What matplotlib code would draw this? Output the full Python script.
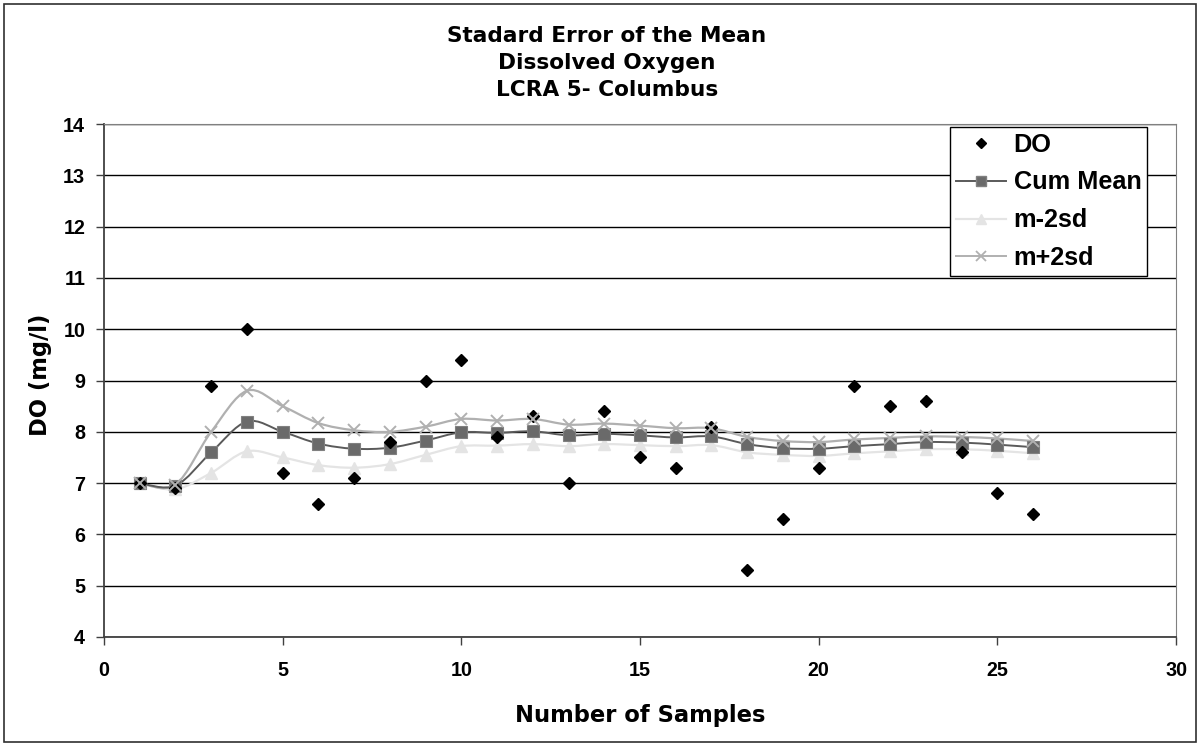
import matplotlib
matplotlib.use("Agg")
import matplotlib.pyplot as plt
from matplotlib.path import Path
from matplotlib.patches import PathPatch, Rectangle
from matplotlib.lines import Line2D
import numpy as np

plt.rcParams['font.family'] = ['Liberation Sans', 'DejaVu Sans']
plt.rcParams['font.weight'] = 'bold'

samples = list(range(1, 27))
do_vals = [7.0, 6.9, 8.9, 10.0, 7.2, 6.6, 7.1, 7.8, 9.0, 9.4, 7.9, 8.3, 7.0,
           8.4, 7.5, 7.3, 8.1, 5.3, 6.3, 7.3, 8.9, 8.5, 8.6, 7.6, 6.8, 6.4]
cum_mean = [7.0, 6.95, 7.6, 8.2, 8.0, 7.77, 7.67, 7.69, 7.83, 7.99, 7.98, 8.01, 7.93,
            7.96, 7.93, 7.89, 7.91, 7.76, 7.68, 7.67, 7.72, 7.76, 7.80, 7.79, 7.75, 7.70]
m_minus = [7.0, 6.88, 7.2, 7.62, 7.5, 7.35, 7.3, 7.37, 7.55, 7.72, 7.73, 7.76, 7.72,
           7.76, 7.74, 7.72, 7.74, 7.6, 7.55, 7.53, 7.58, 7.62, 7.66, 7.66, 7.63, 7.58]
m_plus = [7.0, 6.97, 8.0, 8.8, 8.5, 8.17, 8.03, 8.0, 8.1, 8.25, 8.22, 8.25, 8.14,
          8.16, 8.12, 8.07, 8.07, 7.90, 7.82, 7.8, 7.85, 7.88, 7.91, 7.9, 7.87, 7.82]

title_lines = ["Stadard Error of the Mean", "Dissolved Oxygen", "LCRA 5- Columbus"]
legend_labels = ['DO', 'Cum Mean', 'm-2sd', 'm+2sd']

W, H = 1199, 744
fig = plt.figure(figsize=(W / 100, H / 100), dpi=100)
L, R, T, B = 104, 1176, 124, 637
ax = fig.add_axes([L / W, 1 - B / H, (R - L) / W, (B - T) / H])

def smooth(ax, xs, ys, color, lw, z):
    pts = np.column_stack([xs, ys]).astype(float)
    n = len(pts)
    verts = [pts[0]]
    codes = [Path.MOVETO]
    for i in range(n - 1):
        p0 = pts[i - 1] if i > 0 else pts[i]
        p1 = pts[i]
        p2 = pts[i + 1]
        p3 = pts[i + 2] if i + 2 < n else pts[i + 1]
        c1 = p1 + (p2 - p0) / 6.0
        c2 = p2 - (p3 - p1) / 6.0
        verts += [c1, c2, p2]
        codes += [Path.CURVE4] * 3
    ax.add_patch(PathPatch(Path(verts, codes), fill=False, edgecolor=color,
                           lw=lw, zorder=z, capstyle='round', joinstyle='round'))

c_mean = '#5a5a5a'
c_mean_m = '#6a6a6a'
c_minus = '#e4e4e4'
c_plus = '#b0b0b0'

smooth(ax, samples, m_minus, c_minus, 1.6, 3)
smooth(ax, samples, m_plus, c_plus, 1.6, 3)
smooth(ax, samples, cum_mean, c_mean, 1.4, 3)

ax.plot(samples, do_vals, ls='none', marker='D', ms=5.8, color='black', mec='black',
        zorder=5)
ax.plot(samples, m_minus, ls='none', marker='^', ms=8.6, color=c_minus, mec=c_minus,
        zorder=4)
ax.plot(samples, cum_mean, ls='none', marker='s', ms=8.4, color=c_mean_m, mec='#808080',
        mew=0.8, zorder=4)
ax.plot(samples, m_plus, ls='none', marker='x', ms=8.6, mew=1.4, color=c_plus, zorder=6)

ax.set_xlim(0, 30)
ax.set_ylim(4, 14)
ax.set_xticks(range(0, 31, 5))
ax.set_yticks(range(4, 15))
ax.yaxis.grid(True, color='black', lw=1)
ax.set_axisbelow(True)
ax.tick_params(axis='both', direction='out', length=5.5, width=1, labelsize=14.2,
               color='#404040')
ax.tick_params(axis='x', pad=12)
ax.tick_params(axis='y', pad=8)
for lab in ax.get_xticklabels() + ax.get_yticklabels():
    lab.set_fontweight('heavy')
for s in ['top', 'right']:
    ax.spines[s].set_color('#808080')
for s in ['left', 'bottom']:
    ax.spines[s].set_color('#404040')
    ax.spines[s].set_linewidth(1.3)

lab_font = dict(family='DejaVu Sans', fontsize=16.3, fontweight='bold')
fig.text(640.5 / W, 1 - 722 / H, 'Number of Samples', ha='center', va='baseline',
         **lab_font)
fig.text(47 / W, 1 - 375 / H, 'DO (mg/l)', ha='center', va='baseline', rotation=90,
         rotation_mode='anchor', **lab_font)

title_font = dict(family='DejaVu Sans', fontsize=15.6, fontweight='bold')
for i, line in enumerate(title_lines):
    fig.text(607 / W, 1 - (41.5 + 27.4 * i) / H, line, ha='center', va='baseline',
             **title_font)

handles = [
    Line2D([], [], ls='none', marker='D', ms=5, color='black'),
    Line2D([], [], color=c_mean, lw=1.4, marker='s', ms=7.5, mfc=c_mean_m, mec='#808080'),
    Line2D([], [], color=c_minus, lw=1.6, marker='^', ms=7.5),
    Line2D([], [], color=c_plus, lw=1.4, marker='x', ms=7.5, mew=1.3),
]
leg = ax.legend(handles, legend_labels, loc='upper right',
                bbox_to_anchor=((1147 - L) / (R - L), (B - 127) / (B - T)),
                borderaxespad=0,
                fancybox=False, framealpha=1, edgecolor='black',
                prop={'family': 'Liberation Sans', 'weight': 'bold', 'size': 18.2},
                handlelength=2.0, borderpad=0.22, labelspacing=0.55,
                handletextpad=0.28)
leg.get_frame().set_linewidth(1)
leg.set_zorder(10)

fig.patches.append(Rectangle((3.5 / W, 2.5 / H), (W - 7) / W, (H - 6) / H,
                             transform=fig.transFigure, fill=False,
                             edgecolor='#303030', lw=1.2))

fig.savefig('out.png', dpi=100)
